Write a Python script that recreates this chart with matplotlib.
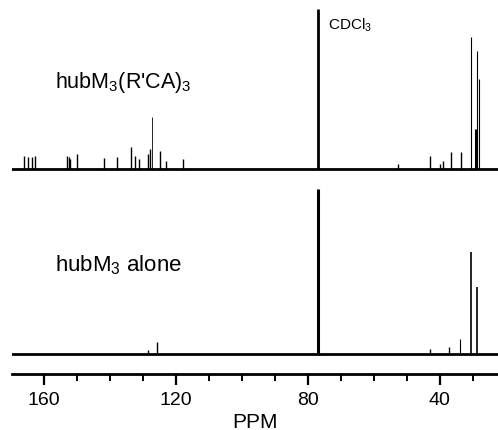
import numpy as np
import matplotlib.pyplot as plt

plt.rcParams['font.family'] = ['Liberation Sans', 'DejaVu Sans']
plt.rcParams['mathtext.fontset'] = 'custom'
plt.rcParams['mathtext.rm'] = 'Liberation Sans'
plt.rcParams['mathtext.it'] = 'Liberation Sans'

# peak positions (ppm) and heights (pixels above baseline)
top_ppm = [166.0, 165.0, 163.6, 162.7, 152.9, 152.4, 152.0, 150.0, 141.8, 137.9,
           133.6, 132.4, 131.2, 128.5, 127.9, 127.3, 124.8, 123.0, 117.9,
           76.9, 52.7, 43.0, 40.0, 39.0, 36.7, 33.6, 30.6, 29.0, 28.8, 28.3]
top_h = [13, 12, 12, 13, 13, 12, 10, 15, 11, 12,
         22, 13, 10, 15, 20, 52, 18, 8, 10,
         160, 5, 13, 5, 8, 17, 17, 132, 40, 118, 90]
top_lw = [1.0] * 15 + [0.6] + [1.0] * 3 + [2.0] + [1.0] * 6 + [0.8, 2.2, 0.8, 0.8]

bot_ppm = [128.5, 125.8, 76.9, 43.0, 37.4, 34.0, 30.6, 28.8]
bot_h = [4, 12, 165, 5, 7, 15, 102, 67]
bot_lw = [1.0, 1.0, 2.2, 1.0, 1.0, 0.8, 1.2, 1.2]

top_base = 205
bot_base = 20

fig = plt.figure(figsize=(4.98, 4.31), dpi=100)
ax = fig.add_axes([12 / 498, 56 / 431, 1 - 12 / 498, 1 - 56 / 431])
ax.set_xlim(169.7, 22.4)
ax.set_ylim(0, 375)

for base, ppm, h, lw in [(top_base, top_ppm, top_h, top_lw),
                         (bot_base, bot_ppm, bot_h, bot_lw)]:
    ax.plot([169.7, 22.4], [base, base], color='black', lw=2.0)
    for p, hh, w in zip(ppm, h, lw):
        ax.vlines(p, base, base + hh, color='black', lw=w)

ax.text(156.7, 287, "hubM$_3$(R'CA)$_3$", fontsize=15.5,
        ha='left', va='baseline')
ax.text(74.0, 345, 'CDCl$_3$', fontsize=11, ha='left', va='baseline')
ax.text(156.7, 104, 'hubM$_3$ alone', fontsize=16, ha='left', va='baseline')

ax.set_xticks([160, 120, 80, 40])
ax.set_xticks(np.arange(30, 170, 10), minor=True)
ax.tick_params(axis='x', which='major', direction='out', length=8, width=1.6,
               labelsize=14, pad=4)
ax.tick_params(axis='x', which='minor', direction='out', length=5, width=1.4)
ax.set_yticks([])
for s in ['top', 'left', 'right']:
    ax.spines[s].set_visible(False)
ax.spines['bottom'].set_linewidth(2)
ax.set_xlabel('PPM', fontsize=15, labelpad=3)

fig.savefig('out.png', dpi=100)
